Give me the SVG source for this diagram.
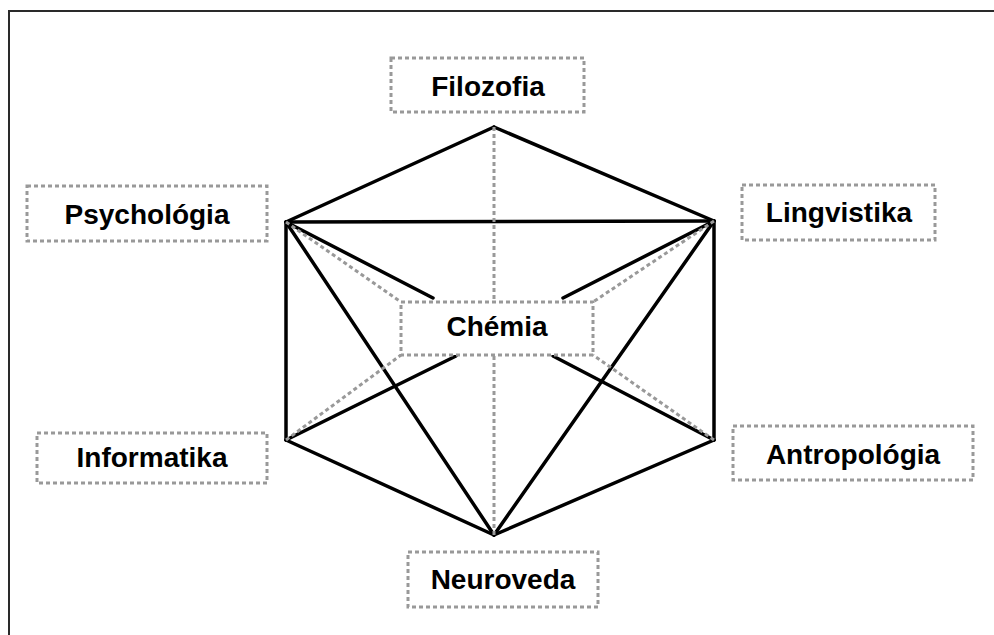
<svg xmlns="http://www.w3.org/2000/svg" width="994" height="635" viewBox="0 0 994 635">
<style>
.frame{fill:none;stroke:#2a2a2a;stroke-width:2}
.edge{stroke:#000;stroke-width:3.5;fill:none;stroke-linecap:round}
.dot{stroke:#999;stroke-width:3;fill:none;stroke-dasharray:4 3}
.box{fill:#fff;stroke:#999;stroke-width:3;stroke-dasharray:4 3}
.lbl{font-family:"Liberation Sans",Arial,sans-serif;font-weight:bold;font-size:28px;fill:#000;text-anchor:middle}
</style>
<rect width="994" height="635" fill="#fff"/>
<path class="frame" d="M9,635 V11 H994"/>
<g id="connectors">
<g id="solid">
<line class="edge" x1="494" y1="127" x2="286" y2="222"/>
<line class="edge" x1="494" y1="127" x2="714" y2="221"/>
<line class="edge" x1="286" y1="222" x2="714" y2="221"/>
<line class="edge" x1="286" y1="222" x2="286" y2="440"/>
<line class="edge" x1="714" y1="221" x2="714" y2="440"/>
<line class="edge" x1="286" y1="440" x2="494" y2="535"/>
<line class="edge" x1="714" y1="440" x2="494" y2="535"/>
<line class="edge" x1="286" y1="222" x2="494" y2="535"/>
<line class="edge" x1="714" y1="221" x2="494" y2="535"/>
<line class="edge" x1="286" y1="222" x2="433" y2="298"/>
<line class="edge" x1="714" y1="221" x2="563" y2="298"/>
<line class="edge" x1="286" y1="440" x2="456" y2="356"/>
<line class="edge" x1="714" y1="440" x2="553" y2="356"/>
</g>
<g id="dotted">
<line class="dot" x1="494" y1="127" x2="494" y2="302"/>
<line class="dot" x1="494" y1="535" x2="494" y2="355"/>
<line class="dot" x1="286" y1="222" x2="401" y2="302"/>
<line class="dot" x1="714" y1="221" x2="593" y2="302"/>
<line class="dot" x1="286" y1="440" x2="401" y2="355"/>
<line class="dot" x1="714" y1="440" x2="593" y2="355"/>
</g>
</g>
<g id="filozofia"><rect class="box" x="391" y="58" width="193" height="54"/><text class="lbl" x="488" y="96">Filozofia</text></g>
<g id="psychologia"><rect class="box" x="27" y="186" width="240" height="55"/><text class="lbl" x="147" y="224">Psychológia</text></g>
<g id="lingvistika"><rect class="box" x="742" y="185" width="193" height="55"/><text class="lbl" x="839" y="222">Lingvistika</text></g>
<g id="chemia"><rect class="box" x="401" y="302" width="192" height="53"/><text class="lbl" x="497" y="336">Chémia</text></g>
<g id="informatika"><rect class="box" x="37" y="433" width="230" height="50"/><text class="lbl" x="152" y="467">Informatika</text></g>
<g id="antropologia"><rect class="box" x="733" y="426" width="240" height="54"/><text class="lbl" x="853" y="464">Antropológia</text></g>
<g id="neuroveda"><rect class="box" x="408" y="552" width="190" height="55"/><text class="lbl" x="503" y="589">Neuroveda</text></g>
</svg>
